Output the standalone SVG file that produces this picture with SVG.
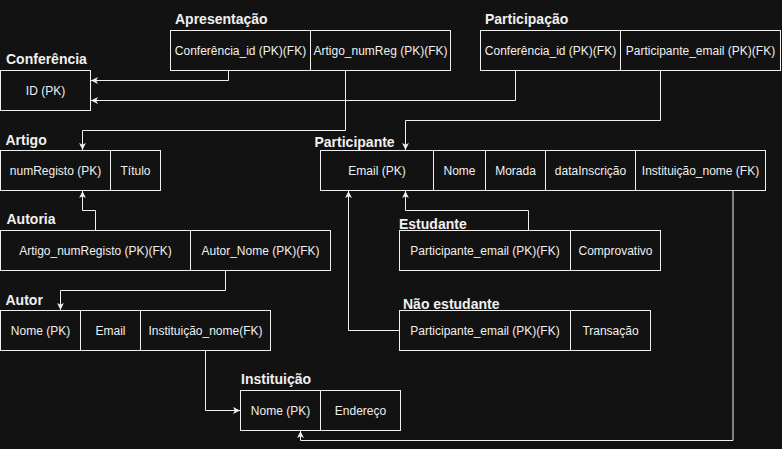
<svg xmlns="http://www.w3.org/2000/svg" width="782" height="449" viewBox="0 0 782 449">
<style>
.cell{fill:#121212;stroke:#f0f0f0;stroke-width:1}
.div{stroke:#f0f0f0;stroke-width:1}
.t{font-family:"Liberation Sans",Arial,sans-serif;font-size:12px;fill:#f0f0f0;text-anchor:middle}
.h{font-family:"Liberation Sans",Arial,sans-serif;font-size:14px;font-weight:bold;fill:#f0f0f0}
.c{fill:none;stroke:#f0f0f0;stroke-width:1}
.ca{fill:none;stroke:#f0f0f0;stroke-width:1;marker-end:url(#arr)}
</style>
<defs>
<marker id="arr" viewBox="0 0 8 8" refX="7" refY="4" markerWidth="8" markerHeight="8" markerUnits="userSpaceOnUse" orient="auto">
<path d="M0,0.6 L7,4 L0,7.4 L1.8,4 Z" fill="#f0f0f0"/>
</marker>
</defs>
<rect width="782" height="449" fill="#121212"/>
<g id="connectors">
<path class="ca" d="M228.5,70.5 V80.5 H91"/>
<path class="ca" d="M515.5,70.5 V100.5 H91"/>
<path class="ca" d="M345.5,70.5 V130.5 H82.5 V150"/>
<path class="ca" d="M660.5,70.5 V120.5 H405.5 V150"/>
<path class="ca" d="M95.5,230.5 V210.5 H82.5 V191"/>
<path class="ca" d="M528.5,230.5 V210.5 H405.5 V191"/>
<path class="ca" d="M399.5,330.5 H348.5 V191"/>
<path class="ca" d="M225.5,270.5 V290.5 H60.5 V310"/>
<path class="ca" d="M205.5,350.5 V410.5 H240"/>
<path class="ca" d="M733,190.5 V440.5 H300.5 V431"/>
</g>
<g id="apresentacao">
<text class="h" x="175" y="24">Apresentação</text>
<rect class="cell" x="170.5" y="30.5" width="280" height="40"/>
<line class="div" x1="310.5" y1="30.5" x2="310.5" y2="70.5"/>
<text class="t" x="240.5" y="54.5">Conferência_id (PK)(FK)</text>
<text class="t" x="380.5" y="54.5">Artigo_numReg (PK)(FK)</text>
</g>
<g id="participacao">
<text class="h" x="485" y="24">Participação</text>
<rect class="cell" x="480.5" y="30.5" width="300" height="40"/>
<line class="div" x1="620.5" y1="30.5" x2="620.5" y2="70.5"/>
<text class="t" x="550.5" y="54.5">Conferência_id (PK)(FK)</text>
<text class="t" x="700.5" y="54.5">Participante_email (PK)(FK)</text>
</g>
<g id="conferencia">
<text class="h" x="6" y="64">Conferência</text>
<rect class="cell" x="0.5" y="70.5" width="90" height="40"/>
<text class="t" x="45.5" y="94.5">ID (PK)</text>
</g>
<g id="artigo">
<text class="h" x="5.5" y="144.5">Artigo</text>
<rect class="cell" x="0.5" y="150.5" width="160" height="40"/>
<line class="div" x1="110.5" y1="150.5" x2="110.5" y2="190.5"/>
<text class="t" x="55.5" y="174.5">numRegisto (PK)</text>
<text class="t" x="135.5" y="174.5">Título</text>
</g>
<g id="participante">
<text class="h" x="314.5" y="146.5">Participante</text>
<rect class="cell" x="320.5" y="150.5" width="445" height="40"/>
<line class="div" x1="433.5" y1="150.5" x2="433.5" y2="190.5"/>
<line class="div" x1="485.5" y1="150.5" x2="485.5" y2="190.5"/>
<line class="div" x1="545.5" y1="150.5" x2="545.5" y2="190.5"/>
<line class="div" x1="635.5" y1="150.5" x2="635.5" y2="190.5"/>
<text class="t" x="377" y="174.5">Email (PK)</text>
<text class="t" x="459.5" y="174.5">Nome</text>
<text class="t" x="515.5" y="174.5">Morada</text>
<text class="t" x="590.5" y="174.5">dataInscrição</text>
<text class="t" x="700.5" y="174.5">Instituição_nome (FK)</text>
</g>
<g id="autoria">
<text class="h" x="6.5" y="224">Autoria</text>
<rect class="cell" x="0.5" y="230.5" width="330" height="40"/>
<line class="div" x1="190.5" y1="230.5" x2="190.5" y2="270.5"/>
<text class="t" x="95.5" y="254.5">Artigo_numRegisto (PK)(FK)</text>
<text class="t" x="260.5" y="254.5">Autor_Nome (PK)(FK)</text>
</g>
<g id="estudante">
<text class="h" x="399" y="229">Estudante</text>
<rect class="cell" x="399.5" y="230.5" width="261" height="40"/>
<line class="div" x1="570.5" y1="230.5" x2="570.5" y2="270.5"/>
<text class="t" x="485" y="254.5">Participante_email (PK)(FK)</text>
<text class="t" x="615.5" y="254.5">Comprovativo</text>
</g>
<g id="autor">
<text class="h" x="5.5" y="304.5">Autor</text>
<rect class="cell" x="0.5" y="310.5" width="270" height="40"/>
<line class="div" x1="80.5" y1="310.5" x2="80.5" y2="350.5"/>
<line class="div" x1="140.5" y1="310.5" x2="140.5" y2="350.5"/>
<text class="t" x="40.5" y="334.5">Nome (PK)</text>
<text class="t" x="110.5" y="334.5">Email</text>
<text class="t" x="205.5" y="334.5">Instituição_nome(FK)</text>
</g>
<g id="nao-estudante">
<text class="h" x="403" y="309">Não estudante</text>
<rect class="cell" x="399.5" y="310.5" width="251" height="40"/>
<line class="div" x1="570.5" y1="310.5" x2="570.5" y2="350.5"/>
<text class="t" x="485" y="334.5">Participante_email (PK)(FK)</text>
<text class="t" x="610.5" y="334.5">Transação</text>
</g>
<g id="instituicao">
<text class="h" x="241" y="384">Instituição</text>
<rect class="cell" x="240.5" y="390.5" width="160" height="40"/>
<line class="div" x1="320.5" y1="390.5" x2="320.5" y2="430.5"/>
<text class="t" x="280.5" y="414.5">Nome (PK)</text>
<text class="t" x="360.5" y="414.5">Endereço</text>
</g>
</svg>
